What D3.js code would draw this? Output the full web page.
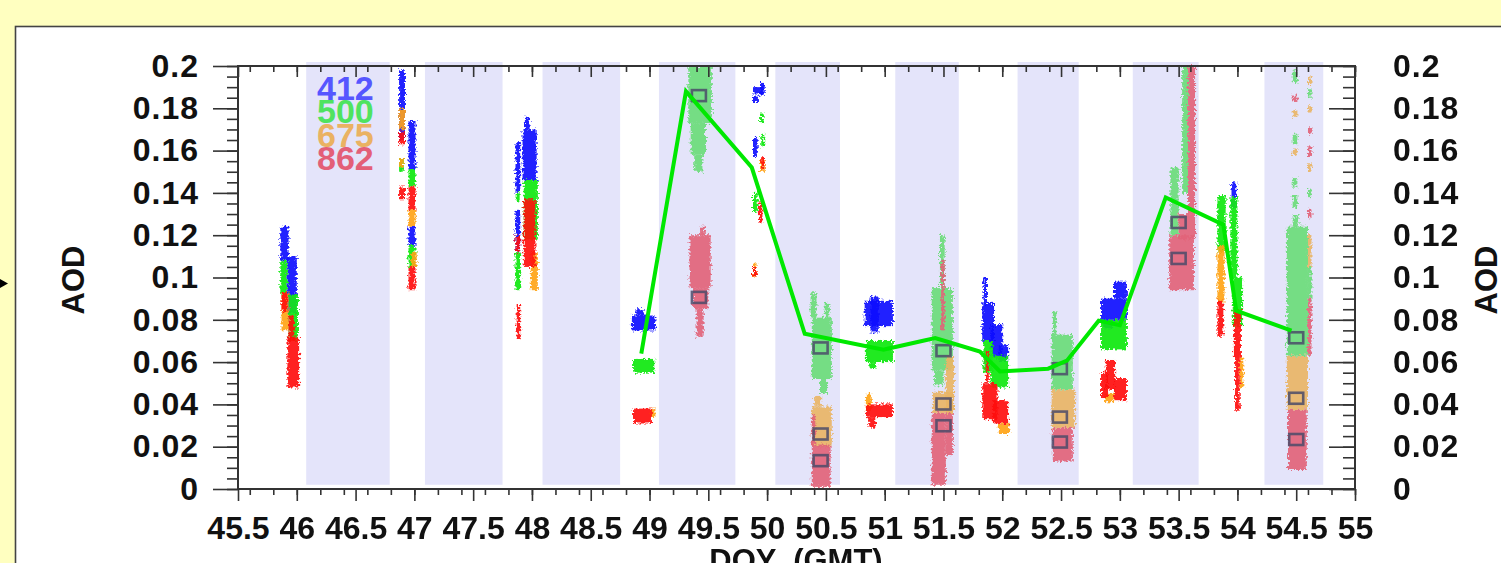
<!DOCTYPE html>
<html>
<head>
<meta charset="utf-8">
<script src="https://d3js.org/d3.v7.min.js"></script>
<style>
  html, body { margin: 0; padding: 0; background: #ffffc0; overflow: hidden; }
  svg { display: block; }
  .tick text { font-family: "Liberation Sans", Arial, Helvetica, sans-serif; font-weight: bold; font-size: 32px; fill: #111; }
  .yaxis .tick text { letter-spacing: 1px; }
  .tick line { stroke: #333; stroke-width: 1.6; }
</style>
</head>
<body>
<div id="chart"></div>
<script>
// --- ticks ---
const xTickValues = [45.5, 46, 46.5, 47, 47.5, 48, 48.5, 49, 49.5, 50, 50.5, 51, 51.5, 52, 52.5, 53, 53.5, 54, 54.5, 55];
const yTickValues = [0, 0.02, 0.04, 0.06, 0.08, 0.1, 0.12, 0.14, 0.16, 0.18, 0.2];

// night periods (shaded), DOY start / end
const nightStart = [46.08, 47.09, 48.09, 49.08, 50.07, 51.09, 52.13, 53.11, 54.23];
const nightEnd   = [46.79, 47.75, 48.75, 49.73, 50.62, 51.63, 52.65, 53.67, 54.73];

// legend wavelengths (nm)
const wavelengths = ["412", "500", "675", "862"];

// point clouds: [doyFrom, doyTo, aodLow, aodHigh]
// instrument 1 (bright)
const bright412 = [
  [45.86, 45.93, 0.108, 0.124], [45.92, 46.0, 0.083, 0.11],
  [46.87, 46.92, 0.165, 0.198], [46.95, 47.01, 0.151, 0.174], [46.95, 47.01, 0.115, 0.124],
  [47.92, 48.04, 0.146, 0.170], [47.94, 47.98, 0.170, 0.176], [47.86, 47.9, 0.14, 0.164], [47.86, 47.9, 0.112, 0.132],
  [48.85, 49.05, 0.075, 0.082], [48.88, 48.95, 0.082, 0.085],
  [49.88, 49.97, 0.187, 0.19], [49.88, 49.93, 0.183, 0.186], [49.88, 49.92, 0.157, 0.166], [49.94, 49.98, 0.186, 0.192],
  [50.83, 51.07, 0.077, 0.089], [50.88, 50.95, 0.074, 0.091],
  [51.84, 51.87, 0.087, 0.1], [51.83, 51.93, 0.07, 0.088], [51.9, 52.0, 0.062, 0.078], [51.97, 52.05, 0.06, 0.068],
  [52.84, 53.06, 0.08, 0.09], [52.95, 53.06, 0.09, 0.098], [52.86, 52.94, 0.076, 0.08],
  [53.95, 53.99, 0.133, 0.145]
];
const bright500 = [
  [45.86, 45.92, 0.092, 0.108], [45.93, 46.01, 0.07, 0.092],
  [46.87, 46.91, 0.150, 0.156], [46.95, 47.01, 0.143, 0.151], [46.95, 47.01, 0.105, 0.115],
  [47.93, 48.05, 0.118, 0.146], [47.86, 47.9, 0.094, 0.112], [47.87, 47.89, 0.136, 0.14],
  [48.86, 49.04, 0.055, 0.0615],
  [49.94, 49.97, 0.173, 0.178], [49.95, 49.97, 0.162, 0.168], [49.88, 49.92, 0.131, 0.14],
  [50.84, 51.07, 0.06, 0.07], [50.87, 50.93, 0.057, 0.06],
  [51.84, 51.92, 0.055, 0.07], [51.9, 52.05, 0.048, 0.063],
  [52.84, 53.06, 0.066, 0.08],
  [53.83, 53.9, 0.112, 0.139], [53.94, 54.0, 0.1, 0.138], [53.96, 54.04, 0.077, 0.1]
];
const bright675 = [
  [45.87, 45.93, 0.075, 0.093],
  [46.87, 46.92, 0.17, 0.18], [46.87, 46.91, 0.152, 0.156], [46.95, 47.01, 0.124, 0.132], [46.97, 47.02, 0.105, 0.112],
  [47.99, 48.05, 0.094, 0.112],
  [49.01, 49.05, 0.034, 0.038],
  [49.94, 49.98, 0.15, 0.156], [49.88, 49.91, 0.1, 0.107],
  [50.84, 50.89, 0.037, 0.045],
  [51.97, 52.06, 0.026, 0.031],
  [52.87, 52.95, 0.041, 0.045],
  [53.83, 53.89, 0.088, 0.115], [54.02, 54.05, 0.048, 0.062]
];
const bright862 = [
  [45.87, 45.92, 0.084, 0.093], [45.93, 45.98, 0.07, 0.082], [45.92, 46.02, 0.048, 0.072],
  [46.87, 46.92, 0.163, 0.169], [46.87, 46.92, 0.137, 0.143], [46.95, 47.01, 0.132, 0.143], [46.95, 47.01, 0.094, 0.105],
  [47.93, 48.03, 0.105, 0.137], [47.86, 47.9, 0.112, 0.12], [47.87, 47.9, 0.071, 0.087],
  [48.86, 49.02, 0.031, 0.038],
  [49.95, 49.97, 0.151, 0.157], [49.93, 49.96, 0.126, 0.136], [49.88, 49.91, 0.101, 0.105],
  [50.84, 51.07, 0.034, 0.04], [50.86, 50.92, 0.029, 0.034],
  [51.86, 51.88, 0.05, 0.065], [51.83, 51.96, 0.033, 0.05], [51.92, 52.05, 0.031, 0.042],
  [52.84, 52.9, 0.043, 0.055], [52.88, 52.96, 0.047, 0.061], [52.95, 53.06, 0.042, 0.052],
  [53.83, 53.88, 0.072, 0.089], [53.97, 54.03, 0.062, 0.085], [53.98, 54.02, 0.037, 0.062]
];
// instrument 2 (pale)
const pale500 = [
  [49.33, 49.53, 0.173, 0.2], [49.35, 49.48, 0.158, 0.173], [49.38, 49.45, 0.15, 0.158],
  [50.38, 50.55, 0.052, 0.081], [50.37, 50.42, 0.081, 0.093], [50.49, 50.53, 0.081, 0.088], [50.45, 50.51, 0.045, 0.052],
  [51.47, 51.51, 0.095, 0.12], [51.4, 51.58, 0.056, 0.095], [51.42, 51.5, 0.049, 0.056],
  [52.43, 52.46, 0.073, 0.084], [52.42, 52.6, 0.047, 0.073],
  [53.43, 53.5, 0.12, 0.152], [53.53, 53.58, 0.14, 0.2],
  [54.47, 54.51, 0.192, 0.198], [54.47, 54.51, 0.163, 0.168], [54.47, 54.51, 0.143, 0.147], [54.47, 54.51, 0.133, 0.139],
  [54.47, 54.52, 0.124, 0.13], [54.6, 54.63, 0.185, 0.189], [54.6, 54.63, 0.138, 0.142], [54.6, 54.63, 0.09, 0.105],
  [54.42, 54.6, 0.063, 0.124]
];
const pale675 = [
  [50.38, 50.55, 0.02, 0.039], [50.4, 50.46, 0.039, 0.044],
  [51.52, 51.59, 0.036, 0.063], [51.41, 51.59, 0.036, 0.046],
  [52.42, 52.62, 0.029, 0.047],
  [54.47, 54.51, 0.176, 0.179], [54.47, 54.51, 0.158, 0.161],
  [54.6, 54.63, 0.191, 0.195], [54.6, 54.63, 0.178, 0.181], [54.6, 54.63, 0.15, 0.154], [54.6, 54.63, 0.105, 0.12],
  [54.42, 54.6, 0.0375, 0.063]
];
const pale862 = [
  [49.34, 49.52, 0.095, 0.12], [49.37, 49.5, 0.085, 0.095], [49.4, 49.46, 0.072, 0.085], [49.43, 49.47, 0.12, 0.124],
  [50.38, 50.54, 0.001, 0.021], [50.38, 50.41, 0.021, 0.035],
  [51.48, 51.51, 0.075, 0.108], [51.4, 51.52, 0.002, 0.036], [51.52, 51.58, 0.016, 0.036],
  [52.43, 52.6, 0.013, 0.029],
  [53.58, 53.64, 0.13, 0.2], [53.5, 53.64, 0.118, 0.13], [53.42, 53.63, 0.094, 0.12],
  [54.47, 54.51, 0.183, 0.186],
  [54.6, 54.63, 0.168, 0.171], [54.6, 54.63, 0.157, 0.162], [54.6, 54.63, 0.128, 0.132], [54.6, 54.63, 0.063, 0.09],
  [54.43, 54.59, 0.009, 0.0375]
];

// daily means of instrument 2 (boxes)
const meanDoy = [49.42, 50.455, 51.5, 52.49, 53.5, 54.5];
const mean500 = [0.186, 0.0667, 0.0654, 0.0569, 0.126, 0.0715];
const mean675 = [null, 0.026, 0.0402, 0.034, null, 0.0429];
const mean862 = [0.0906, 0.0134, 0.0299, 0.0222, 0.109, 0.0234];

// green line
const lineDoy = [48.93, 49.31, 49.87, 50.32, 50.99, 51.43, 51.81, 51.98, 52.39, 52.55, 52.82, 53.0, 53.39, 53.88, 53.99, 54.46];
const lineAod = [0.064, 0.188, 0.152, 0.0734, 0.0659, 0.0714, 0.065, 0.0556, 0.0569, 0.0607, 0.0796, 0.0775, 0.1378, 0.125, 0.0843, 0.0749];

// --- layout ---
const W = 1501, H = 563;
const plot = { left: 238, right: 1355, top: 66, bottom: 489 };
const font = '"Liberation Sans", Arial, Helvetica, sans-serif';

const svg = d3.select("#chart").append("svg")
    .attr("width", W).attr("height", H)
    .attr("viewBox", `0 0 ${W} ${H}`);

// roughen the cloud edges so they read as scattered points
const defs = svg.append("defs");
const rough = defs.append("filter").attr("id", "rough")
    .attr("x", "-30%").attr("y", "-10%").attr("width", "160%").attr("height", "120%");
rough.append("feTurbulence").attr("type", "fractalNoise").attr("baseFrequency", 0.45)
    .attr("numOctaves", 2).attr("seed", 7).attr("result", "noise");
rough.append("feDisplacementMap").attr("in", "SourceGraphic").attr("in2", "noise")
    .attr("scale", 7).attr("xChannelSelector", "R").attr("yChannelSelector", "G").attr("result", "d");
rough.append("feGaussianBlur").attr("in", "d").attr("stdDeviation", 0.5);

svg.append("rect").attr("width", W).attr("height", H).attr("fill", "#ffffc0");
svg.append("rect")
    .attr("x", 15.5).attr("y", 26.5).attr("width", 1600).attr("height", 700)
    .attr("fill", "#fff").attr("stroke", "#444").attr("stroke-width", 1.6);
// little pointer on the left edge
svg.append("path").attr("d", "M0,279 L8,283.5 L0,288 Z").attr("fill", "#000");

const x = d3.scaleLinear().domain([45.5, 55]).range([plot.left, plot.right]);
const y = d3.scaleLinear().domain([0, 0.2]).range([plot.bottom, plot.top]);

// night shading
svg.append("g").selectAll("rect")
    .data(nightStart.map((s, i) => [s, nightEnd[i]]))
    .join("rect")
    .attr("x", d => x(d[0]))
    .attr("width", d => x(d[1]) - x(d[0]))
    .attr("y", y(0.2) - 4)
    .attr("height", y(0.002) - y(0.2) + 4)
    .attr("fill", "#e4e4fa");

// legend
const legendColors = ["#5656ff", "#4fe35f", "#eab262", "#e35f78"];
svg.append("g").selectAll("text")
    .data(wavelengths)
    .join("text")
    .attr("x", 317)
    .attr("y", (d, i) => 100 + i * 23.4)
    .attr("font-family", font).attr("font-weight", "bold").attr("font-size", 34)
    .attr("fill", (d, i) => legendColors[i])
    .text(d => d);

// clouds
const cloudLayer = svg.append("g").attr("filter", "url(#rough)");
function drawCloud(data, color) {
    cloudLayer.append("g").selectAll("rect")
        .data(data)
        .join("rect")
        .attr("x", d => x(d[0]))
        .attr("width", d => Math.max(3, x(d[1]) - x(d[0])))
        .attr("y", d => y(d[3]))
        .attr("height", d => Math.max(3, y(d[2]) - y(d[3])))
        .attr("fill", color)
        .attr("opacity", 0.92);
}
drawCloud(pale500, "#6bdc7a");
drawCloud(pale675, "#e9b566");
drawCloud(pale862, "#e2647a");
drawCloud(bright412, "#1010ff");
drawCloud(bright500, "#12e812");
drawCloud(bright675, "#ffa41a");
drawCloud(bright862, "#ff1010");

// daily mean boxes
const boxes = [];
meanDoy.forEach((d, i) => {
    [mean500[i], mean675[i], mean862[i]].forEach(v => { if (v != null) boxes.push([d, v]); });
});
svg.append("g").selectAll("rect")
    .data(boxes)
    .join("rect")
    .attr("x", d => x(d[0]) - 7).attr("y", d => y(d[1]) - 5.5)
    .attr("width", 14).attr("height", 11)
    .attr("fill", "none").attr("stroke", "#4b4b68").attr("stroke-width", 2.6)
    .attr("opacity", 0.85);

// green line
svg.append("path")
    .datum(lineDoy.map((d, i) => [d, lineAod[i]]))
    .attr("fill", "none")
    .attr("stroke", "#00e800")
    .attr("stroke-width", 4)
    .attr("stroke-linejoin", "miter")
    .attr("d", d3.line().x(d => x(d[0])).y(d => y(d[1])));

// axes
const fmt = d => String(+d.toFixed(2));
const minorY = y.ticks(40);
const minorX = x.ticks(38);

svg.append("g").attr("transform", `translate(${plot.left},0)`)
    .call(d3.axisLeft(y).tickValues(minorY).tickSize(11).tickSizeOuter(0).tickFormat(""))
    .call(g => g.select(".domain").remove());
svg.append("g").attr("class", "yaxis").attr("transform", `translate(${plot.left},0)`)
    .call(d3.axisLeft(y).tickValues(yTickValues).tickSize(25).tickSizeOuter(0).tickPadding(14).tickFormat(fmt))
    .call(g => g.select(".domain").remove());

svg.append("g").attr("transform", `translate(${plot.right},0)`)
    .call(d3.axisRight(y).tickValues(minorY).tickSizeInner(-12).tickSizeOuter(0).tickFormat(""))
    .call(g => g.select(".domain").remove());
svg.append("g").attr("class", "yaxis").attr("transform", `translate(${plot.right},0)`)
    .call(d3.axisRight(y).tickValues(yTickValues).tickSizeInner(-26).tickSizeOuter(0).tickPadding(38).tickFormat(fmt))
    .call(g => g.select(".domain").remove());

svg.append("g").attr("transform", `translate(0,${plot.bottom})`)
    .call(d3.axisBottom(x).tickValues(minorX).tickSize(6).tickSizeOuter(0).tickFormat(""))
    .call(g => g.select(".domain").remove());
svg.append("g").attr("transform", `translate(0,${plot.bottom})`)
    .call(d3.axisBottom(x).tickValues(xTickValues).tickSize(12).tickSizeOuter(0).tickPadding(15).tickFormat(fmt))
    .call(g => g.select(".domain").remove());

svg.append("g").attr("transform", `translate(0,${plot.top})`)
    .call(d3.axisTop(x).tickValues(minorX).tickSizeInner(-6).tickSizeOuter(0).tickFormat(""))
    .call(g => g.select(".domain").remove());
svg.append("g").attr("transform", `translate(0,${plot.top})`)
    .call(d3.axisTop(x).tickValues(xTickValues).tickSizeInner(-11).tickSizeOuter(0).tickFormat(""))
    .call(g => g.select(".domain").remove());

// frame
svg.append("rect")
    .attr("x", plot.left).attr("y", plot.top)
    .attr("width", plot.right - plot.left).attr("height", plot.bottom - plot.top)
    .attr("fill", "none").attr("stroke", "#333").attr("stroke-width", 2);

// axis titles
svg.append("text")
    .attr("transform", "translate(84,280) rotate(-90)")
    .attr("text-anchor", "middle")
    .attr("font-family", font).attr("font-weight", "bold").attr("font-size", 31).attr("fill", "#111")
    .text("AOD");
svg.append("text")
    .attr("transform", "translate(1497,280) rotate(-90)")
    .attr("text-anchor", "middle")
    .attr("font-family", font).attr("font-weight", "bold").attr("font-size", 31).attr("fill", "#111")
    .text("AOD");
svg.append("text")
    .attr("x", 796).attr("y", 571)
    .attr("text-anchor", "middle")
    .attr("font-family", font).attr("font-weight", "bold").attr("font-size", 31).attr("fill", "#111")
    .style("white-space", "pre")
    .text("DOY  (GMT)");
</script>
</body>
</html>
